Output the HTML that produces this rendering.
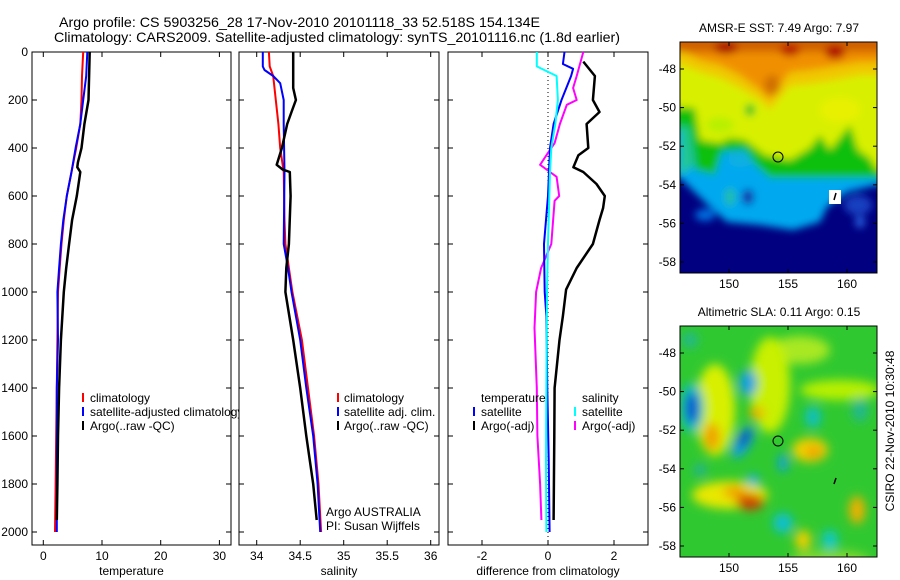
<!DOCTYPE html>
<html><head><meta charset="utf-8"><style>
body{margin:0;background:#fff;}
svg{display:block;font-family:"Liberation Sans",sans-serif;}
text{fill:#000;}
</style></head><body>
<svg id="fig" width="900" height="580" viewBox="0 0 900 580">
<defs>
<filter id="blur1" filterUnits="userSpaceOnUse" x="600" y="0" width="300" height="300"><feGaussianBlur stdDeviation="4"/></filter>
<filter id="blur2" filterUnits="userSpaceOnUse" x="600" y="300" width="300" height="280"><feGaussianBlur stdDeviation="5"/></filter>
<clipPath id="clipMap1"><rect x="680" y="42" width="197" height="231"/></clipPath>
<clipPath id="clipMap2"><rect x="680" y="326" width="197" height="231"/></clipPath>
<clipPath id="clipLeg1"><rect x="0" y="380" width="239" height="60"/></clipPath>
</defs>
<text x="59" y="27" font-size="14" textLength="481" lengthAdjust="spacingAndGlyphs">Argo profile: CS 5903256_28 17-Nov-2010 20101118_33 52.518S 154.134E</text>
<text x="54" y="42" font-size="14" textLength="566" lengthAdjust="spacingAndGlyphs">Climatology: CARS2009. Satellite-adjusted climatology: synTS_20101116.nc (1.8d earlier)</text>

<!-- Map 1 -->
<g>
<text x="779" y="32" font-size="12" text-anchor="middle">AMSR-E SST: 7.49 Argo: 7.97</text>
<g clip-path="url(#clipMap1)">
<rect x="675" y="35" width="210" height="245" fill="#000080"/>
<g filter="url(#blur1)">
<polygon fill="#00a8f0" points="670,30 890,30 890,185 877,185 847,192 827,207 820,222 793,230 760,225 727,222 710,207 680,178 670,178"/>
<ellipse cx="748" cy="197" rx="6" ry="8" fill="#102aa8"/>
<ellipse cx="858" cy="205" rx="14" ry="10" fill="#1840c0"/>
<ellipse cx="860" cy="222" rx="5" ry="6" fill="#2860e0"/>
<ellipse cx="730" cy="197" rx="5" ry="9" fill="#20c0a0"/>
<ellipse cx="705" cy="215" rx="10" ry="6" fill="#0070e0"/>
<polygon fill="#10c010" points="670,30 890,30 890,180 877,178 770,178 755,165 745,150 722,152 715,175 695,170 690,130 670,130"/>
<polygon fill="#20c890" points="680,125 690,128 693,165 682,175 680,175"/>
<ellipse cx="740" cy="160" rx="12" ry="7" fill="#10b0e0"/>
<polygon fill="#d8f000" points="670,30 890,30 890,170 877,170 870,158 858,150 850,125 830,150 820,135 810,148 790,160 765,155 745,140 730,138 720,143 700,140 695,108 670,107"/>
<ellipse cx="720" cy="125" rx="14" ry="8" fill="#b8f000"/>
<ellipse cx="750" cy="110" rx="5" ry="6" fill="#20c020"/>
<ellipse cx="840" cy="110" rx="20" ry="12" fill="#e8f000"/>
<polygon fill="#f0c800" points="670,30 890,30 890,75 860,75 835,80 810,84 790,86 778,100 770,110 760,100 740,88 720,78 700,72 680,64 670,64"/>
<polygon fill="#f09000" points="670,30 890,30 890,62 860,62 835,66 810,70 790,72 778,88 770,100 760,90 740,75 720,65 700,60 680,50 670,50"/>
<rect x="670" y="30" width="220" height="22" fill="#d06000"/>
<ellipse cx="726" cy="48" rx="12" ry="6" fill="#a80000"/>
<ellipse cx="790" cy="50" rx="10" ry="6" fill="#b81800"/>
<ellipse cx="835" cy="52" rx="10" ry="7" fill="#b01000"/>
<ellipse cx="772" cy="85" rx="8" ry="10" fill="#d07000"/>
</g>
<rect x="829" y="190" width="12" height="14" fill="#fff"/>
<line x1="834" y1="200" x2="836" y2="193" stroke="#000" stroke-width="1.5"/>
</g>
<rect x="680" y="42" width="197" height="231" fill="none" stroke="#000"/>
<circle cx="778" cy="157" r="5" fill="none" stroke="#000"/>
<g id="map1ticks"></g>
</g>

<!-- Map 2 -->
<g>
<text x="779" y="316" font-size="12" text-anchor="middle">Altimetric SLA: 0.11 Argo: 0.15</text>
<g clip-path="url(#clipMap2)">
<rect x="675" y="320" width="210" height="245" fill="#30c830"/>
<g filter="url(#blur2)">
<ellipse cx="800" cy="350" rx="30" ry="14" fill="#a8e820"/>
<ellipse cx="830" cy="560" rx="40" ry="10" fill="#80d830"/>
<ellipse cx="715" cy="410" rx="20" ry="46" fill="#d8f000"/>
<ellipse cx="770" cy="385" rx="20" ry="48" fill="#c8f000"/>
<ellipse cx="840" cy="390" rx="40" ry="10" fill="#b8f000"/>
<ellipse cx="730" cy="495" rx="38" ry="14" fill="#e8e800"/>
<ellipse cx="712" cy="437" rx="8" ry="14" fill="#f0a000"/>
<ellipse cx="750" cy="502" rx="14" ry="8" fill="#d04000"/>
<ellipse cx="735" cy="492" rx="12" ry="6" fill="#f0a000"/>
<ellipse cx="757" cy="413" rx="8" ry="6" fill="#f0b000"/>
<ellipse cx="810" cy="450" rx="18" ry="12" fill="#f0d000"/>
<ellipse cx="814" cy="452" rx="8" ry="6" fill="#f0a000"/>
<ellipse cx="857" cy="510" rx="8" ry="14" fill="#f0b000"/>
<ellipse cx="803" cy="540" rx="8" ry="10" fill="#f0d000"/>
<ellipse cx="692" cy="408" rx="12" ry="25" fill="#10c0c0"/>
<ellipse cx="692" cy="408" rx="6" ry="16" fill="#1040d0"/>
<ellipse cx="748" cy="383" rx="9" ry="13" fill="#10a0e0"/>
<ellipse cx="743" cy="442" rx="8" ry="18" fill="#10a0e0" transform="rotate(30 743 442)"/>
<ellipse cx="745" cy="438" rx="4" ry="10" fill="#1030b0" transform="rotate(30 745 438)"/>
<ellipse cx="783" cy="523" rx="10" ry="10" fill="#10c0d0"/>
<ellipse cx="783" cy="463" rx="5" ry="9" fill="#10a0e0"/>
<ellipse cx="813" cy="417" rx="8" ry="11" fill="#10c0c0"/>
<ellipse cx="830" cy="540" rx="8" ry="10" fill="#10c8c8"/>
<ellipse cx="753" cy="480" rx="6" ry="6" fill="#10b0e0"/>
<ellipse cx="860" cy="410" rx="8" ry="12" fill="#20b890"/>
<ellipse cx="700" cy="470" rx="6" ry="6" fill="#20b0a0"/>
<ellipse cx="690" cy="340" rx="8" ry="8" fill="#20b890"/>
</g>
<line x1="834" y1="484" x2="836" y2="478" stroke="#000" stroke-width="1.5"/>
</g>
<rect x="680" y="326" width="197" height="231" fill="none" stroke="#000"/>
<circle cx="778" cy="441" r="5" fill="none" stroke="#000"/>
<g id="map2ticks"></g>
</g>
<text x="0" y="0" font-size="12" transform="translate(894 431) rotate(-90)" text-anchor="middle">CSIRO 22-Nov-2010 10:30:48</text>

<g id="panels"></g>

<!-- legends -->
<g font-size="12" clip-path="url(#clipLeg1)">
<rect x="82" y="393" width="2" height="9" fill="#f00"/><text x="90" y="402">climatology</text>
<rect x="82" y="407" width="2" height="9" fill="#00f"/><text x="90" y="416">satellite-adjusted climatology</text>
<rect x="82" y="421" width="2" height="9" fill="#000"/><text x="90" y="430">Argo(..raw -QC)</text>
</g>
<g font-size="12">
<rect x="337" y="393" width="2" height="9" fill="#f00"/><text x="344" y="402">climatology</text>
<rect x="337" y="407" width="2" height="9" fill="#00f"/><text x="344" y="416">satellite adj. clim.</text>
<rect x="337" y="421" width="2" height="9" fill="#000"/><text x="344" y="430">Argo(..raw -QC)</text>
</g>
<text x="326" y="516" font-size="12">Argo AUSTRALIA</text>
<text x="326" y="530" font-size="12">PI: Susan Wijffels</text>
<g font-size="12">
<text x="481" y="402">temperature</text>
<rect x="473" y="407" width="2" height="9" fill="#00f"/><text x="481" y="416">satellite</text>
<rect x="473" y="421" width="2" height="9" fill="#000"/><text x="481" y="430">Argo(-adj)</text>
<text x="582" y="402">salinity</text>
<rect x="574" y="407" width="2" height="9" fill="#0ff"/><text x="582" y="416">satellite</text>
<rect x="574" y="421" width="2" height="9" fill="#f0f"/><text x="582" y="430">Argo(-adj)</text>
</g>
</svg>
<script>
// ---- data ----
const depthTicks = [0,200,400,600,800,1000,1200,1400,1600,1800,2000];
const tempTicks = [0,10,20,30];
const salTicks = [34,34.5,35,35.5,36];
const salTickLabels = ["34","34.5","35","35.5","36"];
const diffTicks = [-2,0,2];
const latTicks = [-48,-50,-52,-54,-56,-58];
const lonTicks = [150,155,160];

const tempClimDepth = [0,100,200,300,400,500,600,700,800,900,1000,1200,1400,1600,1800,2000];
const tempClim      = [6.8,6.6,6.5,6.3,5.6,4.8,4.0,3.5,3.1,2.8,2.5,2.4,2.3,2.2,2.1,2.0];
const tempSatDepth  = [0,100,200,300,400,500,600,700,800,900,1000,1200,1400,1600,1800,2000];
const tempSat       = [7.5,7.3,6.8,6.3,5.5,4.8,4.0,3.4,3.0,2.7,2.4,2.5,2.3,2.3,2.3,2.3];
const tempArgoDepth = [0,100,200,300,400,460,480,500,600,700,800,900,1000,1200,1400,1600,1800,1950];
const tempArgo      = [7.9,7.8,7.7,7.0,6.5,5.9,5.8,6.3,5.7,4.9,4.4,3.9,3.5,3.0,2.7,2.5,2.4,2.3];

const salClimDepth = [0,60,100,200,300,400,500,700,800,1000,1200,1400,1600,1800,2000];
const salClim      = [34.14,34.15,34.19,34.22,34.25,34.27,34.31,34.32,34.33,34.41,34.52,34.59,34.66,34.71,34.74];
const salSatDepth  = [0,60,75,100,130,200,300,500,800,900,1000,1200,1400,1600,1800,2000];
const salSat       = [34.07,34.07,34.09,34.19,34.27,34.31,34.31,34.32,34.31,34.36,34.40,34.50,34.57,34.65,34.70,34.73];
const salArgoDepth = [0,150,200,250,300,400,470,490,500,600,800,900,1000,1200,1400,1600,1800,1950];
const salArgo      = [34.42,34.42,34.45,34.40,34.35,34.29,34.23,34.30,34.38,34.39,34.37,34.34,34.33,34.42,34.50,34.57,34.65,34.69];

const dTempSatDepth = [0,50,70,100,200,300,400,600,800,1000,1100,1400,1700,2000];
const dTempSat      = [0.5,0.45,0.76,0.7,0.41,0.17,0.06,0.0,-0.12,-0.1,-0.05,-0.02,0.02,0.05];
const dTempArgoDepth = [40,100,200,250,300,400,430,480,500,550,600,650,700,800,900,990,1100,1200,1400,1600,1800,1950];
const dTempArgo      = [1.07,1.42,1.36,1.56,1.17,1.22,0.92,0.77,1.07,1.47,1.72,1.67,1.56,1.36,0.87,0.55,0.45,0.35,0.2,0.19,0.18,0.17];
const dSalSatDepth = [0,60,100,200,300,400,500,800,1000,1400,1700,2000];
const dSalSat      = [-0.34,-0.34,0.26,0.3,0.22,0.1,0.06,0.0,-0.03,-0.05,-0.06,-0.05];
const dSalArgoDepth = [0,100,150,200,220,300,380,420,470,500,520,600,620,800,900,1000,1150,1400,1600,1800,1950];
const dSalArgo      = [1.07,0.87,0.76,0.87,0.57,0.36,0.2,0.0,-0.24,0.06,0.26,0.34,0.2,0.1,-0.21,-0.36,-0.41,-0.34,-0.32,-0.24,-0.2];

// ---- scales ----
const NS='http://www.w3.org/2000/svg';
const yD = d => 52 + d*0.24;
const xT = v => 43.3 + v*5.87;
const xS = v => 256.7 + (v-34)*87;
const xDf = v => 548 + v*33;
const mapLon = v => 729 + (v-150)*11.8;
const map1Lat = v => 69 + (-48 - v)*19.3;
const map2Lat = v => 353 + (-48 - v)*19.3;

function mk(tag, attrs, parent){const e=document.createElementNS(NS,tag);for(const k in attrs)e.setAttribute(k,attrs[k]);parent.appendChild(e);return e;}
const panels=document.getElementById('panels');

function line(depths, vals, xs, color, w, name, parent){
  const pts=depths.map((d,i)=>xs(vals[i]).toFixed(1)+','+yD(d).toFixed(1)).join(' ');
  const p=mk('polyline',{points:pts,fill:'none',stroke:color,'stroke-width':w,'stroke-linejoin':'round'},parent);
  
  
}

function panel(x0,x1,xticks,xlabels,xs,xlabel,name,showY){
  const g=mk('g',{},panels);
  
  
  const fr=mk('rect',{x:x0,y:52,width:x1-x0,height:493,fill:'none',stroke:'#000'},g);
  
  
  depthTicks.forEach(d=>{
    const y=yD(d);
    mk('line',{x1:x0,y1:y,x2:x0+5,y2:y,stroke:'#000'},g);
    mk('line',{x1:x1,y1:y,x2:x1-5,y2:y,stroke:'#000'},g);
    if(showY){const t=mk('text',{x:28,y:y+4,'font-size':12,'text-anchor':'end'},g);t.textContent=d;
      
      }
  });
  xticks.forEach((v,i)=>{
    const x=xs(v);
    mk('line',{x1:x,y1:52,x2:x,y2:57,stroke:'#000'},g);
    mk('line',{x1:x,y1:545,x2:x,y2:540,stroke:'#000'},g);
    const t=mk('text',{x:x,y:560,'font-size':12,'text-anchor':'middle'},g);t.textContent=xlabels[i];
    
    
  });
  const t=mk('text',{x:(x0+x1)/2,y:575,'font-size':12,'text-anchor':'middle'},g);t.textContent=xlabel;
  
  
  return g;
}
const g1=panel(32,231,tempTicks,tempTicks.map(String),xT,'temperature','temperature-panel',true);
line(tempClimDepth,tempClim,xT,'#f00',2,'temp-climatology-line',g1);
line(tempSatDepth,tempSat,xT,'#00f',2,'temp-satellite-line',g1);
line(tempArgoDepth,tempArgo,xT,'#000',2.5,'temp-argo-line',g1);

const g2=panel(239,439,salTicks,salTickLabels,xS,'salinity','salinity-panel',false);
line(salClimDepth,salClim,xS,'#f00',2,'sal-climatology-line',g2);
line(salSatDepth,salSat,xS,'#00f',2,'sal-satellite-line',g2);
line(salArgoDepth,salArgo,xS,'#000',2.5,'sal-argo-line',g2);

const g3=panel(448,648,diffTicks,diffTicks.map(String),xDf,'difference from climatology','difference-panel',false);
const zl=mk('line',{x1:xDf(0),y1:52,x2:xDf(0),y2:545,stroke:'#000','stroke-dasharray':'1,3'},g3);


line(dTempArgoDepth,dTempArgo,xDf,'#000',2.5,'diff-temp-argo-line',g3);
line(dSalArgoDepth,dSalArgo,xDf,'#f0f',2,'diff-sal-argo-line',g3);
line(dTempSatDepth,dTempSat,xDf,'#00f',2,'diff-temp-satellite-line',g3);
line(dSalSatDepth,dSalSat,xDf,'#0ff',2,'diff-sal-satellite-line',g3);

function mapTicks(id,latF,top,bot){
  const g=document.getElementById(id);
  latTicks.forEach(v=>{const y=latF(v);
    mk('line',{x1:680,y1:y,x2:684,y2:y,stroke:'#000'},g);
    mk('line',{x1:877,y1:y,x2:873,y2:y,stroke:'#000'},g);
    const t=mk('text',{x:676,y:y+4,'font-size':12,'text-anchor':'end'},g);t.textContent=v;
    
    });
  lonTicks.forEach(v=>{const x=mapLon(v);
    mk('line',{x1:x,y1:top,x2:x,y2:top+4,stroke:'#000'},g);
    mk('line',{x1:x,y1:bot,x2:x,y2:bot-4,stroke:'#000'},g);
    const t=mk('text',{x:x,y:bot+15,'font-size':12,'text-anchor':'middle'},g);t.textContent=v;
    
    });
}
mapTicks('map1ticks',map1Lat,42,273);
mapTicks('map2ticks',map2Lat,326,557);
</script>
</body></html>
